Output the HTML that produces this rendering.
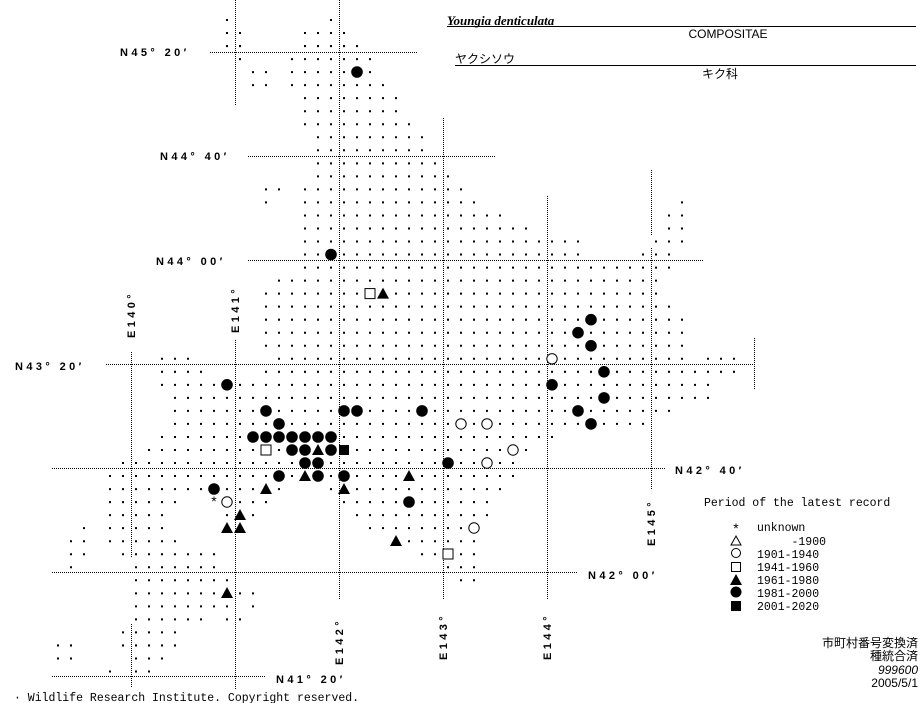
<!DOCTYPE html>
<html><head><meta charset="utf-8"><style>
html,body{margin:0;padding:0;background:#fff;}
svg{display:block;}
.lb{font-family:"Liberation Sans",sans-serif;font-weight:bold;font-size:11px;letter-spacing:3.4px;fill:#000;}
.mono{font-family:"Liberation Mono",monospace;font-size:11.5px;fill:#000;}
.jp{font-family:"Liberation Sans","Noto Sans CJK JP",sans-serif;font-size:12px;fill:#000;}
</style></head><body>
<svg width="923" height="703" viewBox="0 0 923 703" xmlns="http://www.w3.org/2000/svg">
<defs>
<circle id="B" r="5.8" fill="#000"/>
<circle id="O" r="5.2" fill="#fff" stroke="#000" stroke-width="1"/>
<path id="T" d="M0,-6 L6,5 L-6,5Z" fill="#000"/>
<rect id="S" x="-5" y="-5" width="10" height="10" fill="#fff" stroke="#000" stroke-width="1"/>
<rect id="F" x="-5" y="-5" width="10" height="10" fill="#000"/>
</defs>
<rect width="923" height="703" fill="#fff"/>

<g stroke="#000" stroke-width="1" stroke-dasharray="1 1" fill="none">
<line x1="210" y1="52.5" x2="417" y2="52.5"/>
<line x1="248" y1="156.5" x2="495" y2="156.5"/>
<line x1="248" y1="260.5" x2="703" y2="260.5"/>
<line x1="106" y1="364.5" x2="754" y2="364.5"/>
<line x1="52" y1="468.5" x2="666" y2="468.5"/>
<line x1="52" y1="572.5" x2="577" y2="572.5"/>
<line x1="52" y1="676.5" x2="265" y2="676.5"/>
<line x1="235.5" y1="0" x2="235.5" y2="105"/>
<line x1="235.5" y1="340" x2="235.5" y2="690"/>
<line x1="339.5" y1="0" x2="339.5" y2="600"/>
<line x1="443.5" y1="118" x2="443.5" y2="600"/>
<line x1="547.5" y1="196" x2="547.5" y2="600"/>
<line x1="651.5" y1="170" x2="651.5" y2="235"/>
<line x1="651.5" y1="248" x2="651.5" y2="490"/>
<line x1="754.5" y1="338" x2="754.5" y2="390"/>
<line x1="131.5" y1="352" x2="131.5" y2="558"/>
<line x1="131.5" y1="624" x2="131.5" y2="687"/>
</g>

<g transform="translate(226,20) scale(13,13.03)" fill="none" stroke="#000" stroke-width="0.154" stroke-dasharray="0.154 0.846">
<path d="M0,0h1M8,0h1
M0,1h2M6,1h4
M0,2h2M6,2h5
M1,3h1M5,3h7
M2,4h2M5,4h7
M2,5h2M5,5h8
M6,6h8
M6,7h8
M6,8h9
M7,9h9
M7,10h9
M7,11h10
M7,12h11
M3,13h2M6,13h13
M3,14h1M6,14h14M35,14h1
M6,15h16M34,15h2
M6,16h18M34,16h2
M6,17h22M33,17h3
M6,18h22M32,18h3
M6,19h29
M4,20h30
M3,21h31
M3,22h32
M3,23h33
M3,24h33
M3,25h33
M-5,26h3M4,26h32M37,26h3
M-5,27h4M3,27h37
M-5,28h43
M-4,29h42
M-4,30h39
M-4,31h37
M-5,32h31
M-6,33h30
M-8,34h31
M-9,35h32
M-9,36h14M8,36h14
M-9,37h6M1,37h3M9,37h12
M-9,38h5M0,38h3M10,38h11
M-11,39h1M-9,39h5M0,39h2M11,39h9
M-12,40h2M-9,40h6M13,40h7
M-12,41h2M-8,41h8M15,41h5
M-12,42h1M-7,42h7M17,42h3
M-7,43h8M18,43h2
M-7,44h10
M-7,45h8M2,45h1
M-7,46h6M0,46h2
M-8,47h5
M-13,48h2M-8,48h5
M-13,49h2M-7,49h3
M-9,50h1M-7,50h2"/>
</g>

<use href="#B" x="357" y="72"/>
<use href="#B" x="331" y="254.5"/>
<use href="#S" x="370" y="293.6"/><use href="#T" x="383" y="293.6"/>
<use href="#B" x="591" y="319.7"/>
<use href="#B" x="578" y="332.7"/>
<use href="#B" x="591" y="345.8"/>
<use href="#O" x="552" y="358.8"/>
<use href="#B" x="604" y="371.8"/>
<use href="#B" x="227" y="384.8"/><use href="#B" x="552" y="384.8"/>
<use href="#B" x="604" y="397.9"/>
<use href="#B" x="266" y="410.9"/><use href="#B" x="344" y="410.9"/><use href="#B" x="357" y="410.9"/><use href="#B" x="422" y="410.9"/><use href="#B" x="578" y="410.9"/>
<use href="#B" x="279" y="423.9"/><use href="#O" x="461" y="423.9"/><use href="#O" x="487" y="423.9"/><use href="#B" x="591" y="423.9"/>
<use href="#B" x="253" y="437"/><use href="#B" x="266" y="437"/><use href="#B" x="279" y="437"/><use href="#B" x="292" y="437"/><use href="#B" x="305" y="437"/><use href="#B" x="318" y="437"/><use href="#B" x="331" y="437"/>
<use href="#S" x="266" y="450"/><use href="#B" x="292" y="450"/><use href="#B" x="305" y="450"/><use href="#T" x="318" y="450"/><use href="#B" x="331" y="450"/><use href="#F" x="344" y="450"/><use href="#O" x="513" y="450"/>
<use href="#B" x="305" y="463"/><use href="#B" x="318" y="463"/><use href="#B" x="448" y="463"/><use href="#O" x="487" y="463"/>
<use href="#B" x="279" y="476"/><use href="#T" x="305" y="476"/><use href="#B" x="318" y="476"/><use href="#B" x="344" y="476"/><use href="#T" x="409" y="476"/>
<use href="#B" x="214" y="489"/><use href="#T" x="266" y="489"/><use href="#T" x="344" y="489"/>
<text x="214" y="506" text-anchor="middle" font-family="Liberation Sans,sans-serif" font-size="14">*</text>
<use href="#O" x="227" y="502"/><use href="#B" x="409" y="502"/>
<use href="#T" x="240" y="515"/>
<use href="#T" x="227" y="528"/><use href="#T" x="240" y="528"/><use href="#O" x="474" y="528"/>
<use href="#T" x="396" y="541"/>
<use href="#S" x="448" y="554"/>
<use href="#T" x="227" y="593"/>

<text class="lb" x="120" y="56">N45° 20′</text>
<text class="lb" x="160" y="160">N44° 40′</text>
<text class="lb" x="156" y="265">N44° 00′</text>
<text class="lb" x="15" y="370">N43° 20′</text>
<text class="lb" x="675" y="474">N42° 40′</text>
<text class="lb" x="588" y="579">N42° 00′</text>
<text class="lb" x="276" y="683">N41° 20′</text>
<text class="lb" transform="translate(135,338) rotate(-90)">E140°</text>
<text class="lb" transform="translate(239,333) rotate(-90)">E141°</text>
<text class="lb" transform="translate(343,665) rotate(-90)">E142°</text>
<text class="lb" transform="translate(447,660) rotate(-90)">E143°</text>
<text class="lb" transform="translate(551,660) rotate(-90)">E144°</text>
<text class="lb" transform="translate(655,546) rotate(-90)">E145°</text>

<text x="447" y="25" font-family="Liberation Serif,serif" font-weight="bold" font-style="italic" font-size="13">Youngia denticulata</text>
<line x1="447" y1="26.5" x2="916" y2="26.5" stroke="#000"/>
<text x="728" y="38" text-anchor="middle" class="jp" font-size="11">COMPOSITAE</text>
<text x="455" y="63" class="jp" font-size="14">ヤクシソウ</text>
<line x1="455" y1="65.5" x2="916" y2="65.5" stroke="#000"/>
<text x="720" y="78" text-anchor="middle" class="jp">キク科</text>

<text class="mono" x="704" y="506">Period of the latest record</text>
<text x="736" y="533" text-anchor="middle" font-family="Liberation Sans,sans-serif" font-size="14">*</text>
<path d="M736,536 L741,545 L731,545Z" fill="#fff" stroke="#000"/>
<circle cx="736" cy="553" r="4.5" fill="#fff" stroke="#000"/>
<rect x="731.5" y="562.5" width="9" height="9" fill="#fff" stroke="#000"/>
<path d="M736,574 L742,585 L730,585Z" fill="#000"/>
<circle cx="736" cy="592" r="5.5" fill="#000"/>
<rect x="731" y="601" width="10" height="10" fill="#000"/>
<g class="mono">
<text x="757" y="531">unknown</text>
<text x="757" y="545" xml:space="preserve">     -1900</text>
<text x="757" y="558">1901-1940</text>
<text x="757" y="571">1941-1960</text>
<text x="757" y="584">1961-1980</text>
<text x="757" y="597">1981-2000</text>
<text x="757" y="610">2001-2020</text>
</g>
<text x="918" y="647" text-anchor="end" class="jp">市町村番号変換済</text>
<text x="918" y="660" text-anchor="end" class="jp">種統合済</text>
<text x="918" y="674" text-anchor="end" class="jp" font-style="italic">999600</text>
<text x="918" y="687" text-anchor="end" class="jp">2005/5/1</text>
<text class="mono" x="14" y="701" font-size="10.5">· Wildlife Research Institute. Copyright reserved.</text>
</svg>
</body></html>
